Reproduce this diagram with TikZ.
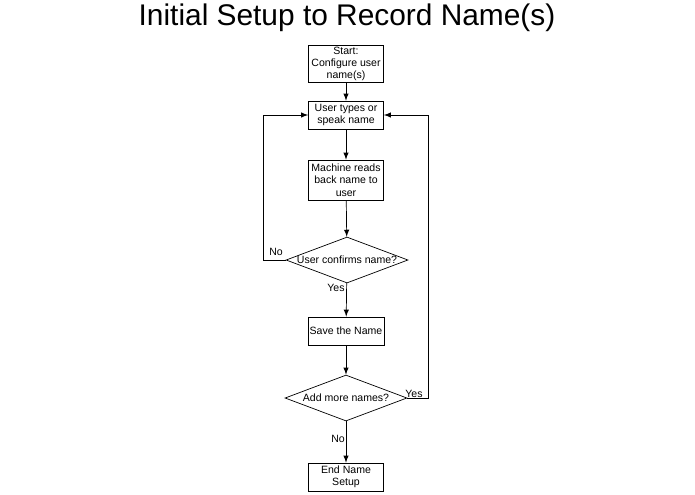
\documentclass[tikz,border=0pt]{standalone}
\usepackage{fontspec}
\setmainfont{Liberation Sans}
\usetikzlibrary{arrows,shapes.geometric,positioning}
\begin{document}
\begin{tikzpicture}
    [x=0.02cm, y=-0.02cm, font=\fontsize{6}{7}\selectfont,
    % STYLES
    % The box style is used for the process boxes
    box/.style={rectangle, draw, thin, align=center, minimum width=1.5cm, minimum height=0.56cm, inner sep=1pt},
    % The check style is used for the decisions
    check/.style={diamond, draw, thin, aspect=2.65, inner sep=0pt, minimum width=2.44cm, minimum height=0.92cm},
    % The tag style is used for the branch labels
    tag/.style={inner sep=1pt}]

    \useasboundingbox (0,0) rectangle (695,494);

    \node at (347,18) {\fontsize{17}{20}\selectfont Initial Setup to Record Name(s)};

    % Draw steps
    \node [box, minimum height=0.66cm] (start) at (346,64) {Start:\\Configure user\\name(s)};
    \node [box] (type) at (346,115) {User types or\\speak name};
    \node [box, minimum height=0.8cm] (read) at (346,180) {Machine reads\\back name to\\user};
    \node [check] (confirm) at (347,260) {User confirms name?};
    \node [box] (save) at (346,331) {Save the Name};
    \node [check] (more) at (346,398) {Add more names?};
    \node [box] (end) at (346,477) {End Name\\Setup};

    \coordinate (l) at (263,0);
    \coordinate (r) at (428,0);

    \path[-latex, thin]
    (start) edge (type)
    (type) edge (read)
    (read) edge (confirm)
    (confirm) edge (save)
    (save) edge (more)
    (more) edge (end);

    \draw[-latex, thin] (confirm.west) -- (confirm.west -| l) -- (type.west -| l) -- (type.west);
    \draw[-latex, thin] (more.east) -- (more.east -| r) -- (type.east -| r) -- (type.east);

    \node [tag] at (276,252) {No};
    \node [tag] at (336,288) {Yes};
    \node [tag] at (414,394) {Yes};
    \node [tag] at (338,439) {No};
\end{tikzpicture}
\end{document}
